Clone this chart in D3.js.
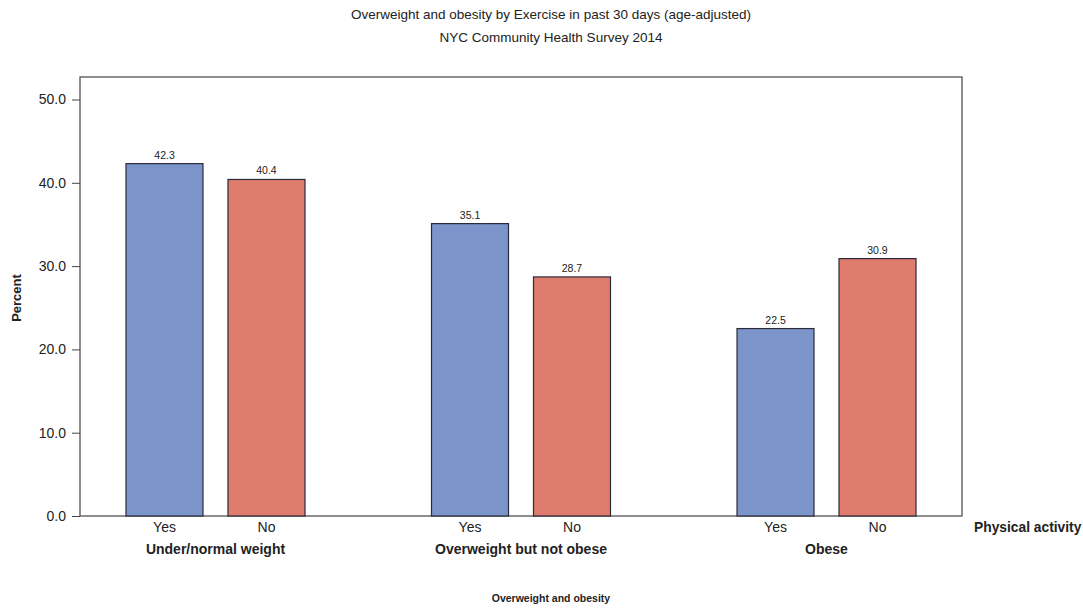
<!DOCTYPE html>
<html><head><meta charset="utf-8">
<script src="https://cdn.jsdelivr.net/npm/d3@7"></script>
<style>body{margin:0;background:#fff;} svg{display:block;font-family:"Liberation Sans",Arial,sans-serif;}</style>
</head><body>
<script>
const categories = ["Under/normal weight", "Overweight but not obese", "Obese"];
const activity = ["Yes", "No"];
const yesValues = [42.3, 35.1, 22.5];
const noValues = [40.4, 28.7, 30.9];
const yTicks = [0, 10, 20, 30, 40, 50];
const colors = {Yes: "#7b95cb", No: "#df7c6d"};

const W = 1083, H = 608;
const L = 80, R = 962, T = 77, B = 516;
const svg = d3.select("body").append("svg").attr("width", W).attr("height", H);

const y = d3.scaleLinear().domain([0, 52.7]).range([B, T]);
const x0 = d3.scalePoint().domain(categories).range([L, R]).padding(0.4435);
const x1 = d3.scaleBand().domain(activity).range([-89.5, 89.5]).paddingInner(0.245).paddingOuter(0);

const data = categories.map((c, i) => ({cat: c, vals: [{k: "Yes", v: yesValues[i]}, {k: "No", v: noValues[i]}]}));

// frame
svg.append("rect").attr("x", L).attr("y", T).attr("width", R - L).attr("height", B - T)
  .attr("fill", "none").attr("stroke", "#444").attr("stroke-width", 1.2);

// y axis
const yAxis = svg.append("g").attr("transform", `translate(${L},0)`)
  .call(d3.axisLeft(y).tickValues(yTicks).tickFormat(d3.format(".1f")).tickSize(8).tickPadding(6));
yAxis.select(".domain").remove();
yAxis.selectAll("line").attr("stroke", "#444");
yAxis.selectAll("text").attr("font-size", 14).attr("fill", "#222").attr("font-family", "Liberation Sans, Arial, sans-serif");

// bars
const g = svg.selectAll(".grp").data(data).enter().append("g").attr("transform", d => `translate(${x0(d.cat)},0)`);
g.selectAll("rect").data(d => d.vals).enter().append("rect")
  .attr("x", d => x1(d.k)).attr("width", x1.bandwidth())
  .attr("y", d => y(d.v)).attr("height", d => y(0) - y(d.v))
  .attr("fill", d => colors[d.k]).attr("stroke", "#2a2a3a").attr("stroke-width", 1.2);
g.selectAll(".val").data(d => d.vals).enter().append("text")
  .attr("x", d => x1(d.k) + x1.bandwidth() / 2).attr("y", d => y(d.v) - 5)
  .attr("text-anchor", "middle").attr("font-size", 10.5).attr("fill", "#222").text(d => d.v.toFixed(1));
g.selectAll(".lab").data(activity).enter().append("text")
  .attr("x", d => x1(d) + x1.bandwidth() / 2).attr("y", B + 16)
  .attr("text-anchor", "middle").attr("font-size", 14).attr("fill", "#222").text(d => d);
g.append("text").attr("x", 0).attr("y", B + 38).attr("text-anchor", "middle")
  .attr("font-size", 14).attr("font-weight", "bold").attr("fill", "#222").text(d => d.cat);

svg.append("text").attr("x", 974).attr("y", B + 16).attr("font-size", 13.8).attr("font-weight", "bold")
  .attr("fill", "#222").text("Physical activity");

// titles
svg.append("text").attr("x", 551).attr("y", 19).attr("text-anchor", "middle").attr("font-size", 13.5)
  .attr("fill", "#222").text("Overweight and obesity by Exercise in past 30 days (age-adjusted)");
svg.append("text").attr("x", 551).attr("y", 42).attr("text-anchor", "middle").attr("font-size", 13.5)
  .attr("fill", "#222").text("NYC Community Health Survey 2014");

svg.append("text").attr("transform", "translate(21,298) rotate(-90)").attr("text-anchor", "middle")
  .attr("font-size", 13).attr("font-weight", "bold").attr("fill", "#222").text("Percent");

svg.append("text").attr("x", 551).attr("y", 602).attr("text-anchor", "middle").attr("font-size", 10.5)
  .attr("font-weight", "bold").attr("fill", "#222").text("Overweight and obesity");
</script>
</body></html>
